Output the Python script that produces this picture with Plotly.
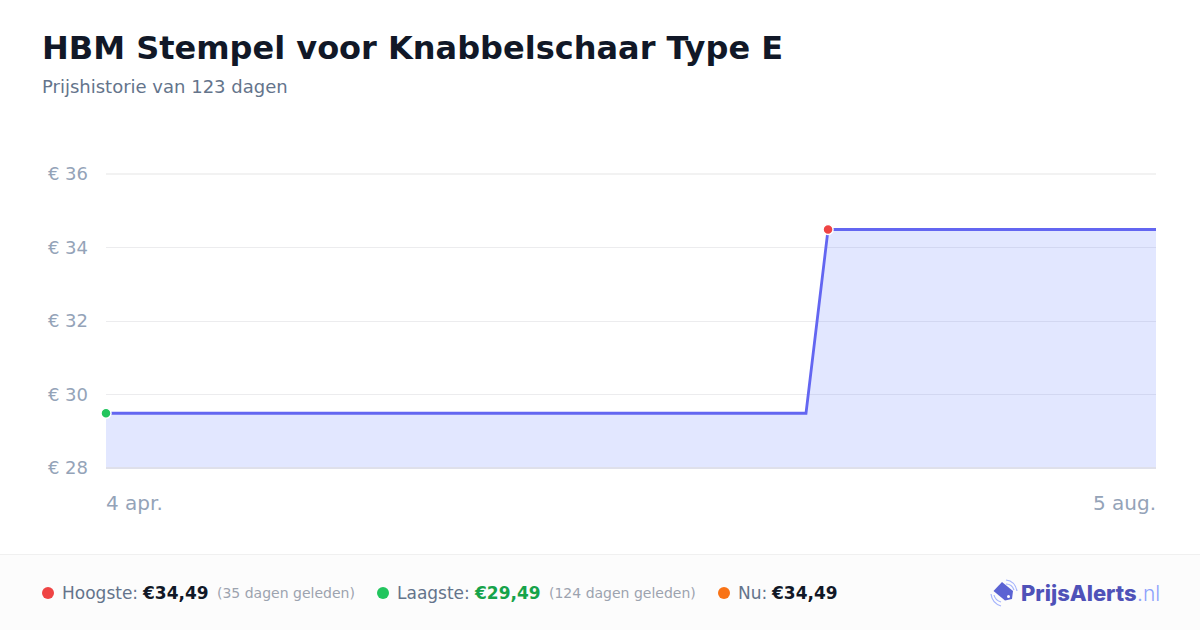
import plotly.graph_objects as go

title = "HBM Stempel voor Knabbelschaar Type E"
subtitle = "Prijshistorie van 123 dagen"

dates = ["2025-04-04", "2025-06-25", "2025-06-27 14:00", "2025-08-05"]
prices = [29.49, 29.49, 34.49, 34.49]

low_date = ["2025-04-04"]
low_price = [29.49]
high_date = ["2025-06-27 14:00"]
high_price = [34.49]

y_ticks = [28, 30, 32, 34, 36]
y_labels = ["€ 28", "€ 30", "€ 32", "€ 34", "€ 36"]

FONT = "DejaVu Sans"
L, R, T, B = 106, 1156, 174, 468

# pixel position to paper coordinates, for everything outside the plot
def px(x):
    return (x - L) / (R - L)

def py(y):
    return (B - y) / (B - T)

def label(x, y, text, size, color, anchor="left", family=FONT, weight=None):
    font = dict(family=family, size=size, color=color)
    if weight:
        font["weight"] = weight
    return dict(x=px(x), y=py(y), xref="paper", yref="paper", text=text, showarrow=False,
                xanchor=anchor, yanchor="middle", xshift=-2, align="left", font=font)

def dot(x, y, color, r=6):
    return dict(type="circle", xref="paper", yref="paper", x0=px(x - r), x1=px(x + r),
                y0=py(y + r), y1=py(y - r), fillcolor=color, line_width=0, layer="above")

fig = go.Figure()
fig.add_trace(go.Scatter(x=dates, y=prices, mode="lines", fill="tozeroy",
                         fillcolor="rgba(99,125,255,0.19)",
                         line=dict(color="#6366f1", width=2.8), hoverinfo="skip"))
fig.add_trace(go.Scatter(x=low_date, y=low_price, mode="markers", cliponaxis=False,
                         marker=dict(color="#22c55e", size=10, line=dict(color="white", width=1.5))))
fig.add_trace(go.Scatter(x=high_date, y=high_price, mode="markers", cliponaxis=False,
                         marker=dict(color="#ef4444", size=10, line=dict(color="white", width=1.5))))

shapes = [
    # footer band
    dict(type="rect", xref="paper", yref="paper", x0=px(0), x1=px(1200), y0=py(630), y1=py(555),
         fillcolor="#fcfcfc", line_width=0, layer="below"),
    dict(type="line", xref="paper", yref="paper", x0=px(0), x1=px(1200), y0=py(554.5), y1=py(554.5),
         line=dict(color="#f0f0f0", width=1), layer="below"),
    # plotly leaves out the gridlines on the range ends
    dict(type="line", xref="paper", yref="paper", x0=0, x1=1, y0=1, y1=1,
         line=dict(color="#eeeeee", width=1.5), layer="below"),
    dict(type="line", xref="paper", yref="paper", x0=0, x1=1, y0=0, y1=0,
         line=dict(color="#dfe0ea", width=2), layer="above"),
    dot(48, 593, "#ef4444"),
    dot(383, 593, "#22c55e"),
    dot(724, 593, "#f97316"),
    # logo tag
    dict(type="path", xref="paper", yref="paper", fillcolor="#5b63d3", line_width=0, layer="above",
         path="M %f %f L %f %f L %f %f L %f %f L %f %f Z" % (
             px(993.5), py(591), px(1002), py(582), px(1013), py(591), px(1012), py(599), px(1005), py(600.5))),
    dict(type="circle", xref="paper", yref="paper", x0=px(1007), x1=px(1010), y0=py(598), y1=py(595),
         fillcolor="white", line_width=0, layer="above"),
    # logo signal arcs
    dict(type="path", xref="paper", yref="paper", line=dict(color="#a5b4fc", width=1.2), layer="above",
         path="M %f %f Q %f %f %f %f" % (px(1006), py(580), px(1015), py(581), px(1017), py(591))),
    dict(type="path", xref="paper", yref="paper", line=dict(color="#a5b4fc", width=1.2), layer="above",
         path="M %f %f Q %f %f %f %f" % (px(1006), py(584), px(1012), py(584), px(1014), py(590))),
    dict(type="path", xref="paper", yref="paper", line=dict(color="#a5b4fc", width=1.2), layer="above",
         path="M %f %f Q %f %f %f %f" % (px(991), py(594), px(992), py(603), px(1001), py(606))),
    dict(type="path", xref="paper", yref="paper", line=dict(color="#a5b4fc", width=1.2), layer="above",
         path="M %f %f Q %f %f %f %f" % (px(994), py(595), px(995), py(600), px(1001), py(602))),
]

annotations = [
    label(42, 48, "<b>" + title + "</b>", 32, "#111827"),
    label(42, 86.5, subtitle, 18, "#64748b"),
    dict(x=dates[0], y=py(503), xref="x", yref="paper", text="4 apr.", showarrow=False, xanchor="left",
         yanchor="middle", xshift=-2, font=dict(family=FONT, size=20, color="#94a3b8")),
    dict(x=dates[-1], y=py(503), xref="x", yref="paper", text="5 aug.", showarrow=False, xanchor="right",
         yanchor="middle", xshift=2, font=dict(family=FONT, size=20, color="#94a3b8")),
    label(62, 593, "Hoogste:", 17, "#64748b"),
    label(142, 593, "<b>€34,49</b>", 17, "#111827"),
    label(217, 593, "(35 dagen geleden)", 14, "#9ca3af"),
    label(397, 593, "Laagste:", 17, "#64748b"),
    label(474, 593, "<b>€29,49</b>", 17, "#16a34a"),
    label(549, 593, "(124 dagen geleden)", 14, "#9ca3af"),
    label(738, 593, "Nu:", 17, "#64748b"),
    label(771, 593, "<b>€34,49</b>", 17, "#111827"),
    label(1021, 593, "PrijsAlerts", 22, "#4f52b8", family="Inter", weight=800),
    label(1136.5, 593, ".nl", 21, "#8da2fb", family="Inter", weight=300),
]

fig.update_layout(
    width=1200, height=630,
    autosize=False,
    margin=dict(l=L, r=1200 - R, t=T, b=630 - B, pad=0),
    paper_bgcolor="white", plot_bgcolor="white",
    showlegend=False,
    shapes=shapes,
    annotations=annotations,
)
fig.update_xaxes(range=[dates[0], dates[-1]], showgrid=False, showticklabels=False, zeroline=False, showline=False)
fig.update_yaxes(range=[28, 36], tickvals=y_ticks, ticktext=y_labels, showgrid=True, gridcolor="#ececee",
                 gridwidth=1.2, zeroline=False, showline=False, ticks="", ticklabelstandoff=17,
                 tickfont=dict(family=FONT, size=18, color="#94a3b8"))

# the page keeps a default body margin otherwise
fig.write_html("out.html", config=dict(displayModeBar=False),
               post_script="document.body.style.margin='0';")
